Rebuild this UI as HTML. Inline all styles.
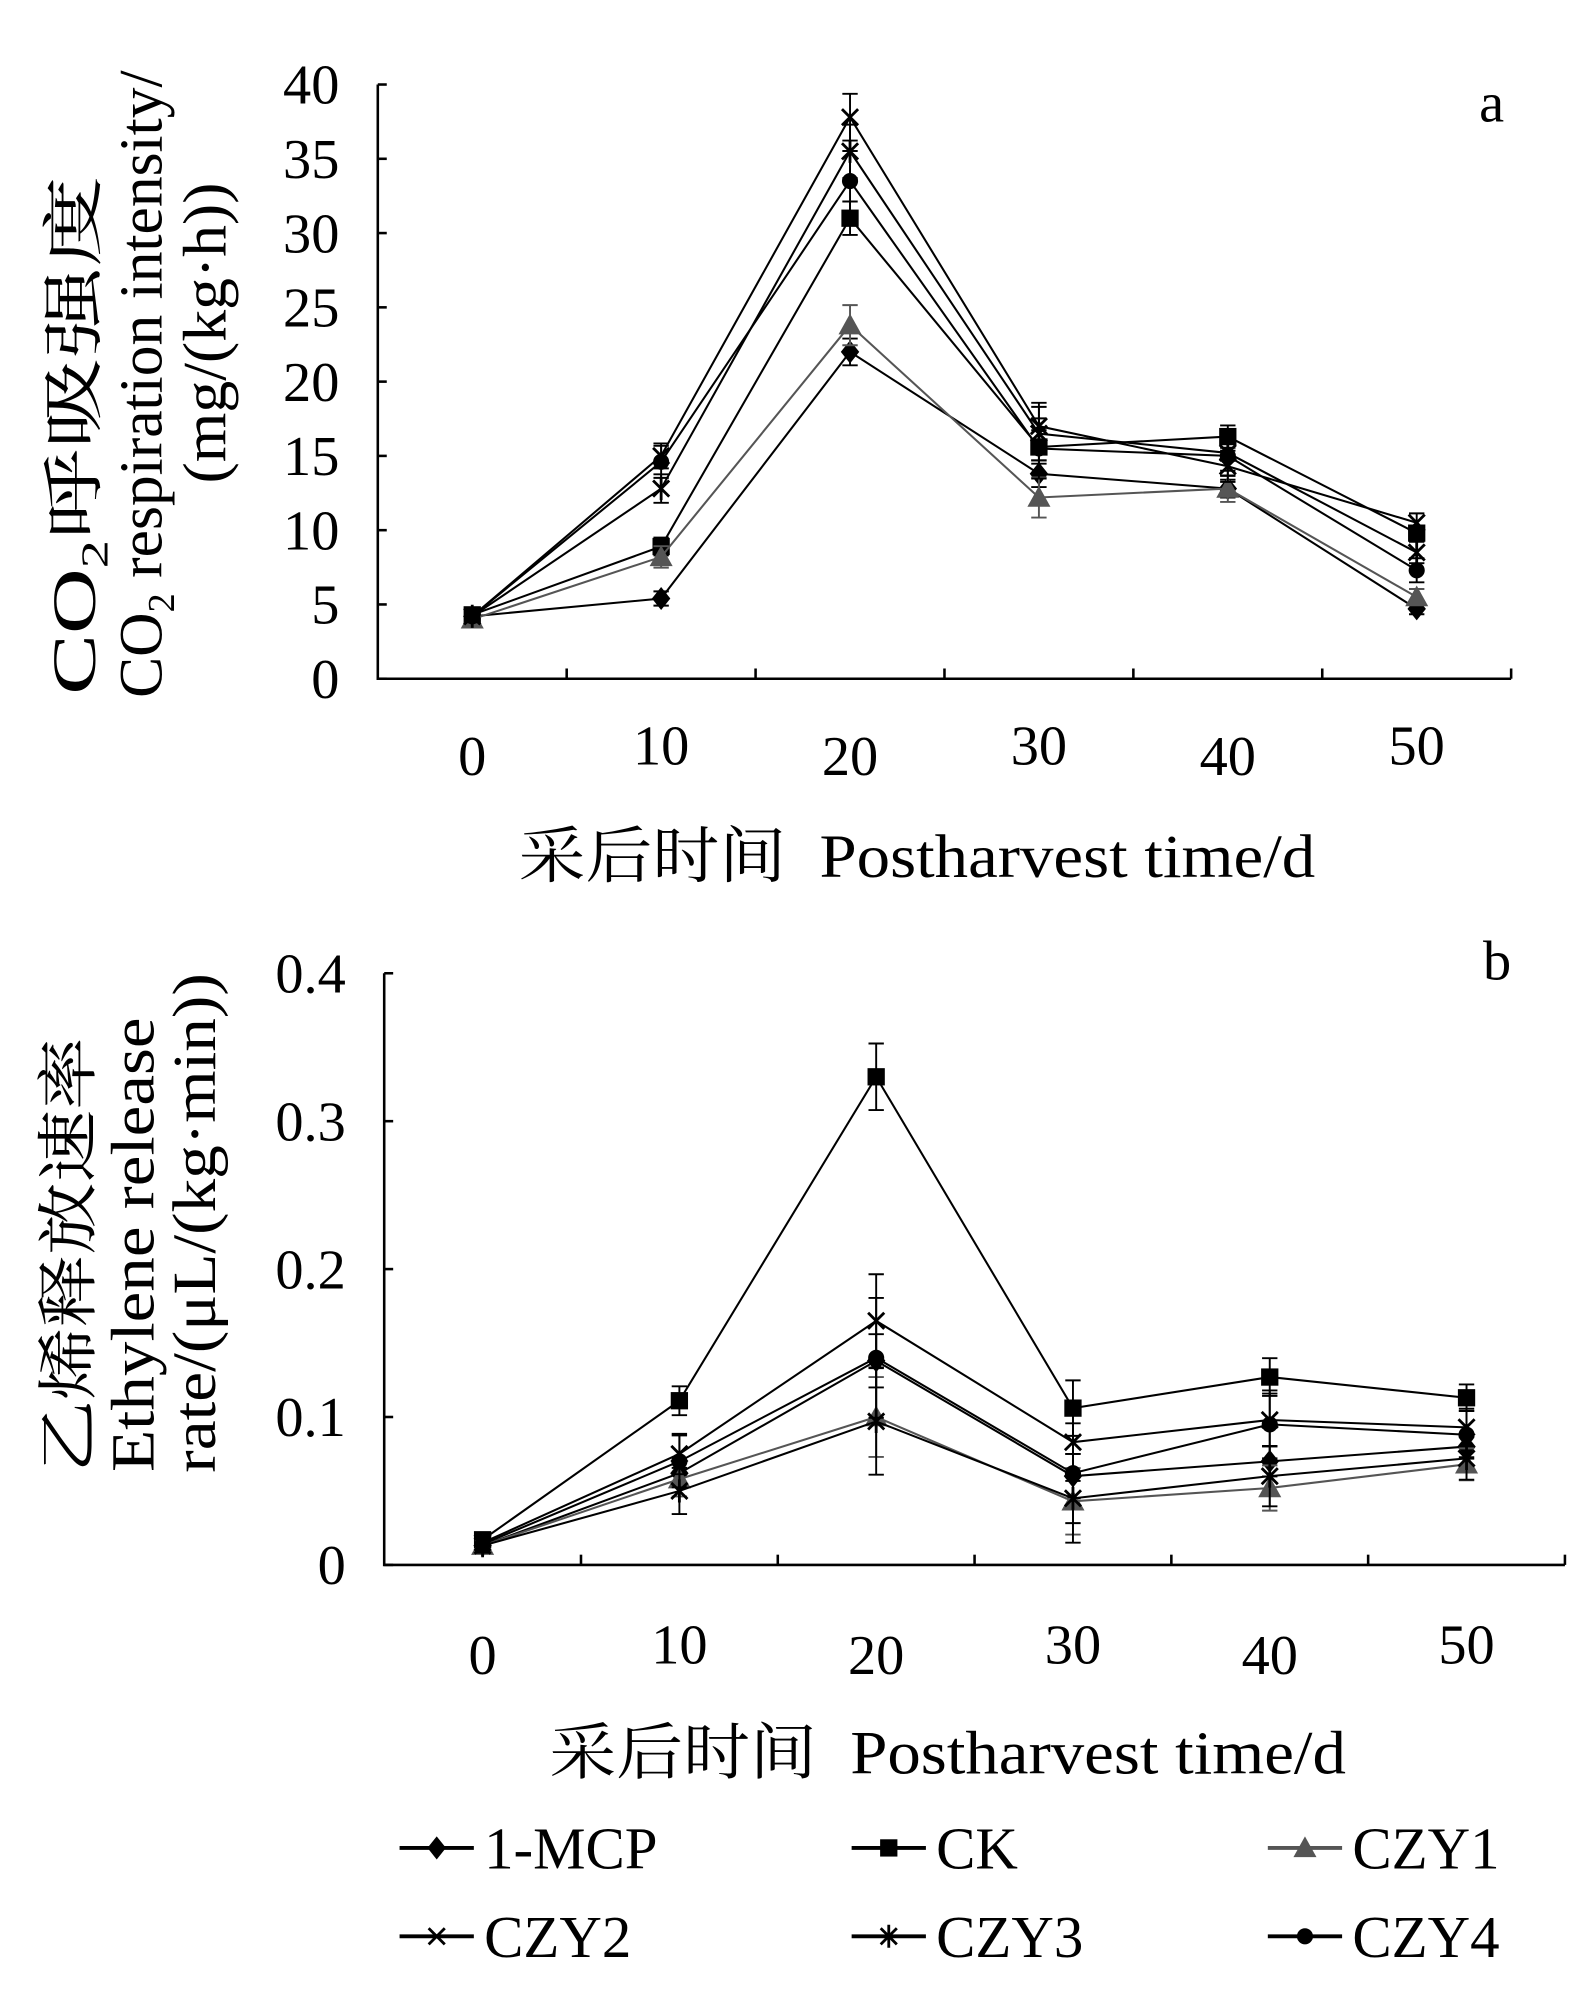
<!DOCTYPE html>
<html><head><meta charset="utf-8"><style>
html,body{margin:0;padding:0;background:#fff}
svg{display:block}
text{font-family:"Liberation Serif","Noto Serif CJK SC","Noto Sans CJK SC",serif;fill:#000}
</style></head><body>
<svg id="fig" width="1588" height="2008" viewBox="0 0 1240 1568" xmlns="http://www.w3.org/2000/svg">
<g id="chartA"></g>
<g id="chartB"></g>
<g id="legend"></g>
</svg>
<script>
const categories=["0","10","20","30","40","50"];
const seriesNames=["1-MCP","CK","CZY1","CZY2","CZY3","CZY4"];
const seriesColors=["#000","#000","#555","#000","#000","#000"];
const seriesMarkers=["diamond","square","triangle","x","star","circle"];
// chart a values
const a_mcp=[4.2,5.4,22.0,13.8,12.8,4.7];
const a_ck=[4.3,8.9,31.0,15.6,16.3,9.8];
const a_czy1=[4.0,8.2,23.8,12.2,12.8,5.5];
const a_czy2=[4.2,15.0,37.8,17.0,14.3,10.5];
const a_czy3=[4.2,12.8,35.5,16.5,15.2,8.5];
const a_czy4=[4.2,14.6,33.5,15.5,15.0,7.3];
const a_err=[0.3,0.8,1.5,1.5,1.0,0.6];
const a_ticks=[0,5,10,15,20,25,30,35,40];
// chart b values
const b_mcp=[0.013,0.062,0.138,0.060,0.070,0.080];
const b_ck=[0.017,0.111,0.330,0.106,0.127,0.113];
const b_czy1=[0.013,0.058,0.100,0.043,0.052,0.068];
const b_czy2=[0.015,0.075,0.165,0.083,0.098,0.093];
const b_czy3=[0.013,0.050,0.097,0.045,0.060,0.072];
const b_czy4=[0.014,0.070,0.140,0.062,0.095,0.088];
const b_err=[0.004,0.013,0.03,0.025,0.017,0.012];
const b_ticks=["0","0.1","0.2","0.3","0.4"];
const NS="http://www.w3.org/2000/svg";
function mk(p,tag,attrs){const e=document.createElementNS(NS,tag);for(const k in attrs)e.setAttribute(k,attrs[k]);p.appendChild(e);return e;}
function marker(g,type,x,y,c,s){
  let e;
  if(type==="diamond")e=mk(g,"polygon",{points:`${x},${y-s} ${x+s*0.8},${y} ${x},${y+s} ${x-s*0.8},${y}`,fill:c});
  else if(type==="square")e=mk(g,"rect",{x:x-s*0.75,y:y-s*0.75,width:s*1.5,height:s*1.5,fill:c});
  else if(type==="triangle")e=mk(g,"polygon",{points:`${x},${y-s} ${x+s},${y+s*0.8} ${x-s},${y+s*0.8}`,fill:c});
  else if(type==="x")e=mk(g,"path",{d:`M${x-s*0.7},${y-s*0.7}L${x+s*0.7},${y+s*0.7}M${x+s*0.7},${y-s*0.7}L${x-s*0.7},${y+s*0.7}`,stroke:c,"stroke-width":2.2});
  else if(type==="star")e=mk(g,"path",{d:`M${x-s*0.7},${y-s*0.7}L${x+s*0.7},${y+s*0.7}M${x+s*0.7},${y-s*0.7}L${x-s*0.7},${y+s*0.7}M${x},${y-s}L${x},${y+s}`,stroke:c,"stroke-width":2.2});
  else e=mk(g,"circle",{cx:x,cy:y,r:s*0.7,fill:c});
  
  
  return e;
}
function drawChart(gid,cfg){
  const g=document.getElementById(gid);
  const L=cfg.left,R=cfg.right,T=cfg.top,B=cfg.bottom;
  const bw=(R-L)/categories.length;
  const xs=i=>L+bw*(i+0.5);
  const ys=v=>B-(v/cfg.max)*(B-T);
  const ax=mk(g,"path",{d:`M${L},${T}L${L},${B}L${R},${B}`,stroke:"#000","stroke-width":2,fill:"none"});
  
  
  for(let i=1;i<=categories.length;i++){const t=mk(g,"line",{x1:L+bw*i,x2:L+bw*i,y1:B,y2:B-8,stroke:"#000","stroke-width":2});
    
    }
  cfg.ticks.forEach(tv=>{const v=parseFloat(tv);const y=ys(v);
    const t=mk(g,"line",{x1:L,x2:L+7,y1:y,y2:y,stroke:"#000","stroke-width":2});
    
    
    const tx=mk(g,"text",{x:L-30,y:y+15,"text-anchor":"end","font-size":44});tx.textContent=String(tv);
    
    });
  categories.forEach((c,i)=>{const tx=mk(g,"text",{x:xs(i),y:B+cfg.xlabOff+(i%2?-5:3),"text-anchor":"middle","font-size":44});tx.textContent=c;
    
    });
  cfg.series.forEach((vals,si)=>{
    const c=seriesColors[si];
    const sg=mk(g,"g",{});
    
    
    mk(sg,"polyline",{points:vals.map((v,i)=>xs(i)+","+ys(v)).join(" "),fill:"none",stroke:c,"stroke-width":1.6});
    vals.forEach((v,i)=>{const e=cfg.err[i]*(0.6+0.15*si);
      const eb=mk(sg,"path",{d:`M${xs(i)},${ys(v+e)}L${xs(i)},${ys(v-e)}M${xs(i)-6},${ys(v+e)}L${xs(i)+6},${ys(v+e)}M${xs(i)-6},${ys(v-e)}L${xs(i)+6},${ys(v-e)}`,stroke:c,"stroke-width":1.5});
      
      
      marker(sg,seriesMarkers[si],xs(i),ys(v),c,9);});
  });
  const lt=mk(g,"text",{x:cfg.letterX,y:cfg.letterY,"font-size":44});lt.textContent=cfg.letter;
  
  
  const xl=mk(g,"text",{x:cfg.xtitleX,y:cfg.xtitleY,"text-anchor":"middle","font-size":48,textLength:622,lengthAdjust:"spacingAndGlyphs"});xl.textContent="采后时间\u00a0\u00a0Postharvest time/d";
  
  
  cfg.ylines.forEach((ln,k)=>{const t=mk(g,"text",{transform:`translate(${cfg.ylx[k]},${cfg.ycy[k]}) rotate(-90)`,"text-anchor":"middle","font-size":48,textLength:cfg.ylen[k],lengthAdjust:"spacingAndGlyphs"});
    t.innerHTML=ln;
    
    });
}
drawChart("chartA",{left:295,right:1180,top:66,bottom:530,max:40,ticks:a_ticks,xlabOff:72,
  series:[a_mcp,a_ck,a_czy1,a_czy2,a_czy3,a_czy4],err:a_err,letter:"a",letterX:1155,letterY:95,
  xtitleX:716,xtitleY:685,ycy:[340,300,260],ylx:[74,126,176],ylen:[405,490,235],
  ylines:['CO<tspan font-size="30" dy="10">2</tspan><tspan dy="-10">呼吸强度</tspan>','CO<tspan font-size="30" dy="10">2</tspan><tspan dy="-10"> respiration intensity/</tspan>','(mg/(kg·h))']});
drawChart("chartB",{left:300,right:1222,top:760,bottom:1222,max:0.4,ticks:b_ticks,xlabOff:82,
  series:[b_mcp,b_ck,b_czy1,b_czy2,b_czy3,b_czy4],err:b_err,letter:"b",letterX:1158,letterY:765,
  xtitleX:740,xtitleY:1385,ycy:[980,972,955],ylx:[70,120,168],ylen:[340,355,390],
  ylines:['乙烯释放速率','Ethylene release','rate/(μL/(kg·min))']});
const lg=document.getElementById("legend");
const lx=[312,665,990],ly=[1443,1512];
seriesNames.forEach((n,i)=>{const x=lx[i%3],y=ly[Math.floor(i/3)],c=seriesColors[i];
  const e=mk(lg,"g",{});
  
  
  mk(e,"line",{x1:x,x2:x+58,y1:y,y2:y,stroke:c,"stroke-width":3});
  marker(e,seriesMarkers[i],x+29,y,c,9);
  const t=mk(e,"text",{x:x+66,y:y+16,"font-size":46});t.textContent=n;});
</script>
</body></html>
